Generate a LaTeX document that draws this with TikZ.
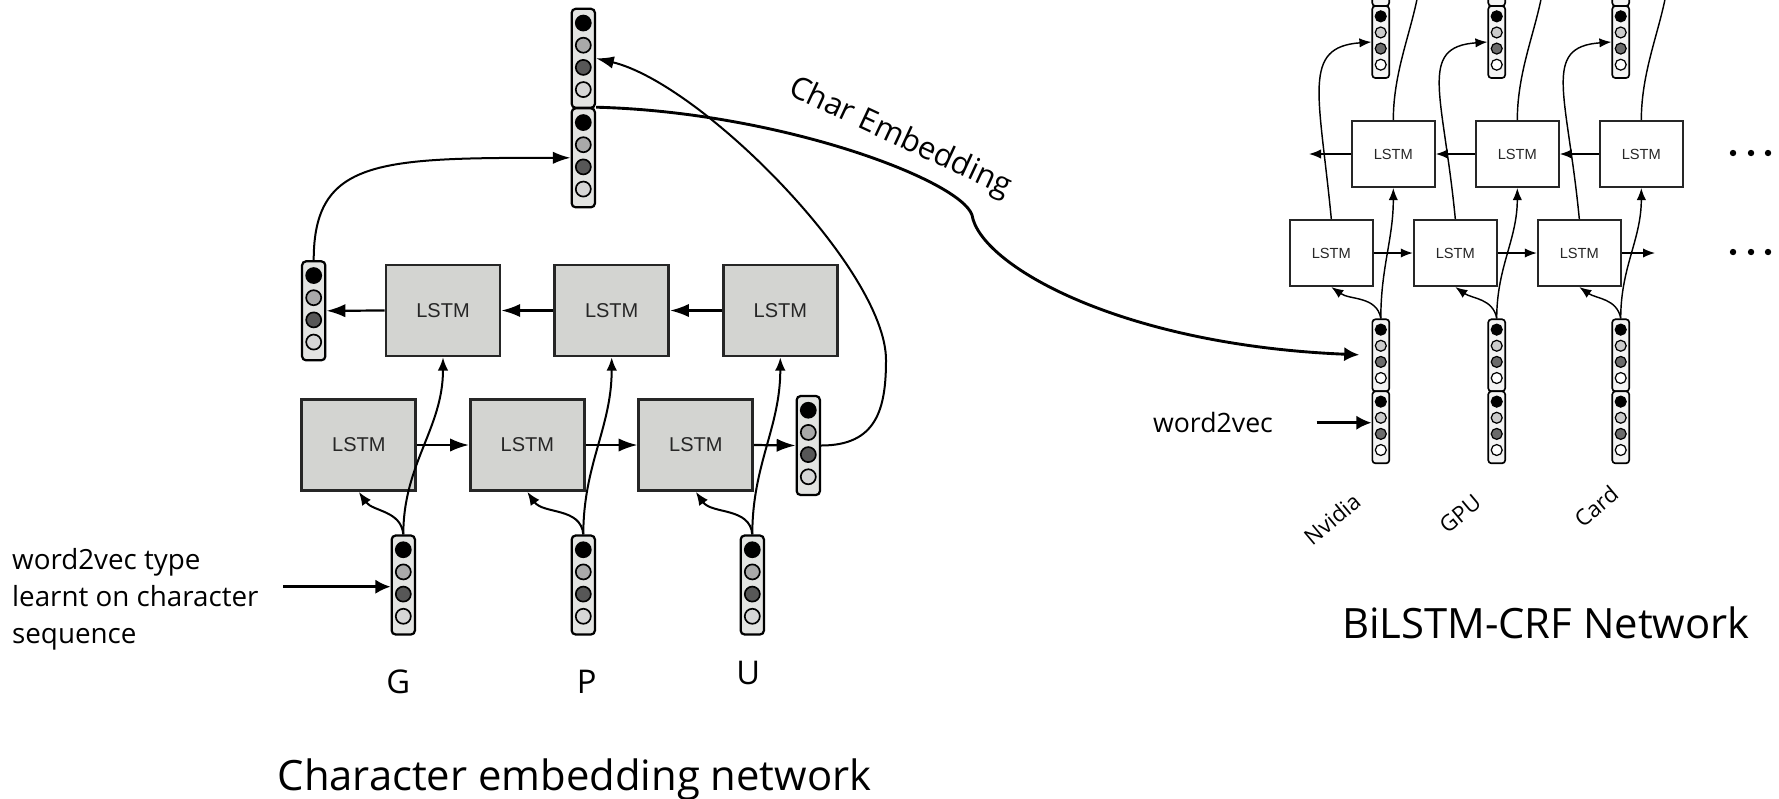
\documentclass[tikz,border=0pt]{standalone}
\usepackage{fontspec}
\setmainfont{Open Sans}
\newfontfamily\lstmfont{Liberation Sans}
\usetikzlibrary{arrows.meta,calc}

% one pixel of the layout
\newcommand{\px}{0.45pt}

\definecolor{boxfill}{HTML}{D3D4D1}
\definecolor{lvecfill}{HTML}{E3E4E2}
\definecolor{rvecfill}{HTML}{F3F3F3}
\definecolor{lmid}{HTML}{A9A9A9}
\definecolor{ldark}{HTML}{575757}
\definecolor{llight}{HTML}{D6D6D6}
\definecolor{rmid}{HTML}{CBCBCB}
\definecolor{rdark}{HTML}{6B6B6B}

% cell colours of the two kinds of vectors
\newcommand{\lcols}{black,lmid,ldark,llight}
\newcommand{\rcols}{black,rmid,rdark,white}

\tikzset{
  lvec/.style={draw, line width=1pt, rounded corners=1.8pt, fill=lvecfill, inner sep=0pt},
  rvec/.style={draw, line width=0.75pt, rounded corners=1.4pt, fill=rvecfill, inner sep=0pt},
  lcell/.style={draw, line width=0.75pt},
  rcell/.style={draw, line width=0.55pt},
  lstmL/.style={draw=black!85, line width=1.2pt, fill=boxfill, minimum width=114*\px, minimum height=91*\px, inner sep=0pt, text=black!85, font=\lstmfont\fontsize{9}{10}\selectfont},
  lstmR/.style={draw=black!85, line width=0.9pt, fill=white, minimum width=83*\px, minimum height=66*\px, inner sep=0pt, text=black!85, font=\lstmfont\fontsize{6.6}{8}\selectfont},
  larr/.style={line width=1pt, -{Latex[length=8.5pt,width=6pt]}},
  sarr/.style={line width=0.9pt, -{Latex[length=6pt,width=4.8pt]}},
  carr/.style={line width=0.9pt, -{Latex[length=8pt,width=5.6pt]}},
  rarr/.style={line width=0.65pt, -{Latex[length=5.4pt,width=4.2pt]}},
  rline/.style={line width=0.65pt},
  warr/.style={line width=1.1pt, -{Latex[length=6.8pt,width=6.4pt]}},
  chlabel/.style={font=\fontsize{14.7}{16}\selectfont},
  wordlabel/.style={font=\fontsize{10}{11}\selectfont, rotate=40},
  capfont/.style={font=\fontsize{18.8}{22}\selectfont},
}

% word vector: kind (l/r), name, centre, height, cell colours
\newcommand{\wvec}[5]{%
  \node[#1vec, minimum height=#4*\px, minimum width=0.235*#4*\px] (#2) at (#3) {};
  \foreach \col [count=\idx] in #5
    \filldraw[#1cell, fill=\col] ($(#2.north)+(0,{-(0.155+0.224*(\idx-1))*#4})$) circle ({0.076*#4});
}

\begin{document}
\begin{tikzpicture}[x=\px, y=\px]

\path[use as bounding box] (0,-798) rectangle (1779,0);
\clip (0,-798) rectangle (1779,0);

% ---- character embedding network ----

% vectors
\wvec{l}{topA}{583.3,-58.3}{99}{\lcols}
\wvec{l}{topB}{583.3,-157.8}{99}{\lcols}
\wvec{l}{lo}{313.7,-310.8}{99}{\lcols}
\wvec{l}{fo}{808.3,-445.5}{99}{\lcols}
\wvec{l}{in1}{403.3,-585}{99}{\lcols}
\wvec{l}{in2}{583.3,-585}{99}{\lcols}
\wvec{l}{in3}{752.3,-585}{99}{\lcols}

% backward and forward cells
\node[lstmL] (bb1) at (443,-310.5) {LSTM};
\node[lstmL] (bb2) at (611.7,-310.5) {LSTM};
\node[lstmL] (bb3) at (780.3,-310.5) {LSTM};
\node[lstmL] (fb1) at (358.8,-445) {LSTM};
\node[lstmL] (fb2) at (527.3,-445) {LSTM};
\node[lstmL] (fb3) at (695.8,-445) {LSTM};

% characters
\node[chlabel] (chG) at (398.3,-681.7) {G};
\node[chlabel] (chP) at (586.7,-681.7) {P};
\node[chlabel] (chU) at (748.3,-673.3) {U};

% side note
\node[anchor=north west, align=left, inner sep=0pt, font=\fontsize{12.5}{16.6}\selectfont] (w2vL) at (11.7,-548) {word2vec type\\learnt on character\\sequence};
\coordinate (w2vLin) at (283.3,-586.7);

\node[capfont, anchor=base] (capL) at (574.5,-790) {Character embedding network};

% rows
\draw[larr] (fb1.east) -- (fb2.west);
\draw[larr] (fb2.east) -- (fb3.west);
\draw[larr] (fb3.east) -- (fo.west);
\draw[larr] (bb3.west) -- (bb2.east);
\draw[larr] (bb2.west) -- (bb1.east);
\draw[larr] (bb1.west) -- (lo.east);

% inputs
\draw[sarr] (in1.north) to[out=95,in=-55] (fb1.south);
\draw[sarr] (in1.north) to[out=90,in=-90] (bb1.south);
\draw[sarr] (in2.north) to[out=95,in=-55] (fb2.south);
\draw[sarr] (in2.north) to[out=90,in=-90] (bb2.south);
\draw[sarr] (in3.north) to[out=95,in=-55] (fb3.south);
\draw[sarr] (in3.north) to[out=90,in=-90] (bb3.south);
\draw[warr] (w2vLin) -- (w2vLin -| in1.west);

% last states into the concatenation
\draw[carr] (lo.north) .. controls +(0,101) and +(-192,0) .. (topB.west);
\draw[carr] (fo.east) .. controls +(55,0) and +(0,-50) .. (886,-360)
  .. controls +(0,90) and +(105,-25) .. (topA.east);

% ---- BiLSTM-CRF network ----

% word vectors (char part on top of word2vec part)
\wvec{r}{nv1}{1380.8,-355.3}{72}{\rcols}
\wvec{r}{nv2}{1380.8,-427.3}{72}{\rcols}
\wvec{r}{gp1}{1496.7,-355.3}{72}{\rcols}
\wvec{r}{gp2}{1496.7,-427.3}{72}{\rcols}
\wvec{r}{cd1}{1620.7,-355.3}{72}{\rcols}
\wvec{r}{cd2}{1620.7,-427.3}{72}{\rcols}

% output vectors, cut by the top edge
\wvec{r}{o1}{1380.7,-42}{72}{\rcols}
\wvec{r}{o1u}{1380.7,30}{72}{\rcols}
\wvec{r}{o2}{1496.7,-42}{72}{\rcols}
\wvec{r}{o2u}{1496.7,30}{72}{\rcols}
\wvec{r}{o3}{1620.7,-42}{72}{\rcols}
\wvec{r}{o3u}{1620.7,30}{72}{\rcols}

% cells
\node[lstmR] (rb1) at (1393.3,-154) {LSTM};
\node[lstmR] (rb2) at (1517.3,-154) {LSTM};
\node[lstmR] (rb3) at (1641.3,-154) {LSTM};
\node[lstmR] (rf1) at (1331.3,-253) {LSTM};
\node[lstmR] (rf2) at (1455.3,-253) {LSTM};
\node[lstmR] (rf3) at (1579.3,-253) {LSTM};

\coordinate (rbout) at (1309,-154);
\coordinate (rfout) at (1655,-253);
\coordinate (up1) at (1419,12);
\coordinate (up2) at (1543,12);
\coordinate (up3) at (1667,12);

% dots
\fill (1733,-153) circle (3.2);
\fill (1751,-153) circle (3.2);
\fill (1768,-153) circle (3.2);
\fill (1733,-252) circle (3.2);
\fill (1751,-252) circle (3.2);
\fill (1768,-252) circle (3.2);

% words
\node[wordlabel] (lbNv) at (1332,-519) {Nvidia};
\node[wordlabel] (lbGp) at (1460,-514) {GPU};
\node[wordlabel] (lbCd) at (1596,-506) {Card};

\node[font=\fontsize{12}{14}\selectfont] (w2vR) at (1213,-422) {word2vec};
\coordinate (w2vRin) at (1316.7,-422.7);

\node[capfont, anchor=base] (capR) at (1545.8,-638.3) {BiLSTM-CRF Network};

% rows
\draw[rarr] (rb3.west) -- (rb2.east);
\draw[rarr] (rb2.west) -- (rb1.east);
\draw[rarr] (rb1.west) -- (rbout);
\draw[rarr] (rf1.east) -- (rf2.west);
\draw[rarr] (rf2.east) -- (rf3.west);
\draw[rarr] (rf3.east) -- (rfout);

% column 1
\draw[rarr] (nv1.north) to[out=100,in=-35] (rf1.south);
\draw[rarr] (nv1.north) to[out=90,in=-90] (rb1.south);
\draw[rarr] (rf1.north) .. controls +(-12,125) and +(-70,-5) .. (o1.west);
\draw[rline] (rb1.north) .. controls +(0,50) and +(-6,-40) .. (up1);

% column 2
\draw[rarr] (gp1.north) to[out=100,in=-35] (rf2.south);
\draw[rarr] (gp1.north) to[out=90,in=-90] (rb2.south);
\draw[rarr] (rf2.north) .. controls +(-12,125) and +(-70,-5) .. (o2.west);
\draw[rline] (rb2.north) .. controls +(0,50) and +(-6,-40) .. (up2);

% column 3
\draw[rarr] (cd1.north) to[out=100,in=-35] (rf3.south);
\draw[rarr] (cd1.north) to[out=90,in=-90] (rb3.south);
\draw[rarr] (rf3.north) .. controls +(-12,125) and +(-70,-5) .. (o3.west);
\draw[rline] (rb3.north) .. controls +(0,50) and +(-6,-40) .. (up3);

\draw[warr] (w2vRin) -- (w2vRin -| nv2.west);

% ---- char embedding handed over ----
\draw[warr, line width=1.3pt, shorten >=5.5pt] (topB.north east)
  .. controls (780,-112) and (960,-180) .. (972,-215)
  .. controls (980,-265) and (1120,-345) .. (nv1.west);
\node[rotate=-25, font=\fontsize{14}{16}\selectfont] (celab) at (900,-138) {Char Embedding};

\end{tikzpicture}
\end{document}
